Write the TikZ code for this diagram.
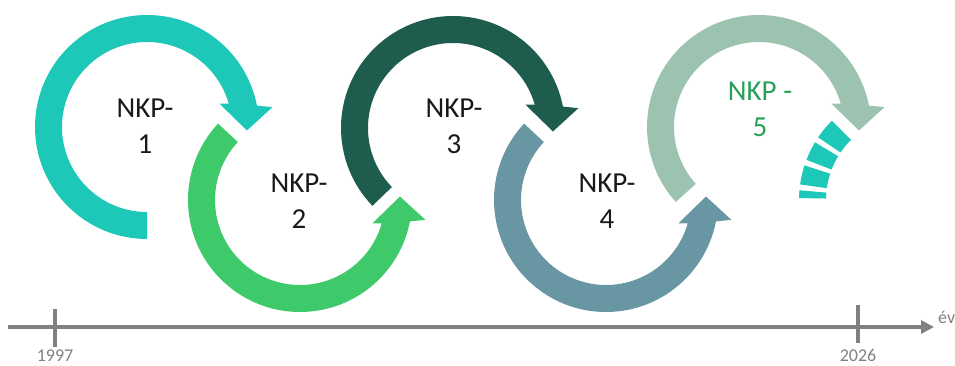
\documentclass[tikz,border=0pt]{standalone}
\usepackage{fontspec}
\setmainfont{Carlito}
\usetikzlibrary{arrows.meta, positioning}

\definecolor{nkpteal}{RGB}{30,200,185}
\definecolor{nkpgreen}{RGB}{62,201,106}
\definecolor{nkpdark}{RGB}{30,92,78}
\definecolor{nkpslate}{RGB}{104,150,162}
\definecolor{nkpsage}{RGB}{156,195,175}
\definecolor{nkptext}{RGB}{40,160,90}
\definecolor{axisgray}{RGB}{128,128,128}

\begin{document}
\begin{tikzpicture}[x=1pt, y=1pt]
\useasboundingbox (0,0) rectangle (955,365);

% ring centres
\coordinate (c1) at (147,238);
\coordinate (c2) at (300,165);
\coordinate (c3) at (453,237);
\coordinate (c4) at (606,165);
\coordinate (c5) at (759,238);
\coordinate (c6) at (911,165);

% circular arrows
\fill[nkpteal, shift={(c1)}] (270:112) arc[start angle=270, end angle=11, radius=112]
    -- (9:127) -- (-2:100) -- (18:76) -- (16:85)
    arc[start angle=16, end angle=270, radius=85] -- cycle;
\fill[nkpgreen, shift={(c2)}] (137:112) arc[start angle=137, end angle=349, radius=112]
    -- (351:127) -- (362:100) -- (342:76) -- (344:85)
    arc[start angle=344, end angle=137, radius=85] -- cycle;
\fill[nkpdark, shift={(c3)}] (224:112) arc[start angle=224, end angle=11, radius=112]
    -- (9:127) -- (-2:100) -- (18:76) -- (16:85)
    arc[start angle=16, end angle=224, radius=85] -- cycle;
\fill[nkpslate, shift={(c4)}] (137:112) arc[start angle=137, end angle=349, radius=112]
    -- (351:127) -- (362:100) -- (342:76) -- (344:85)
    arc[start angle=344, end angle=137, radius=85] -- cycle;
\fill[nkpsage, shift={(c5)}] (222:112) arc[start angle=222, end angle=11, radius=112]
    -- (9:127) -- (-2:100) -- (18:76) -- (16:85)
    arc[start angle=16, end angle=222, radius=85] -- cycle;

% the next one, only started
\begin{scope}[shift={(c6)}, nkpteal]
    \fill (135:112) arc[start angle=135, end angle=146, radius=112] -- (146:85)
        arc[start angle=146, end angle=135, radius=85] -- cycle;
    \fill (149:112) arc[start angle=149, end angle=159, radius=112] -- (159:85)
        arc[start angle=159, end angle=149, radius=85] -- cycle;
    \fill (162:112) arc[start angle=162, end angle=172, radius=112] -- (172:85)
        arc[start angle=172, end angle=162, radius=85] -- cycle;
    \fill (175:112) arc[start angle=175, end angle=179, radius=112] -- (179:85)
        arc[start angle=179, end angle=175, radius=85] -- cycle;
\end{scope}

\begin{scope}[every node/.style={align=center, text=black!90,
    font=\fontsize{29}{36}\selectfont}]
    \node (n1) at (145,239) {NKP-\\1};
    \node (n2) at (299,164) {NKP-\\2};
    \node (n3) at (454,239) {NKP-\\3};
    \node (n4) at (607,164) {NKP-\\4};
    \node[text=nkptext] (n5) at (760,256) {NKP -\\5};
\end{scope}

% time axis
\begin{scope}[axis/.style={draw=axisgray, line width=3.5pt},
    every node/.style={text=axisgray, inner sep=0pt,
    font=\fontsize{18}{20}\selectfont}]
    \coordinate (t0) at (8,38);
    \coordinate (t1) at (934,38);
    \coordinate (a1) at (55,56);
    \coordinate (a2) at (55,18);
    \coordinate (b1) at (858,60);
    \coordinate (b2) at (858,22);
    \draw[axis, -{Triangle[length=13pt, width=13pt]}] (t0) -- (t1);
    \draw[axis] (a1) -- (a2);
    \draw[axis] (b1) -- (b2);
    \node (y1) at (55,9) {1997};
    \node (y2) at (858,10) {2026};
    \node[anchor=base west] (ev) at (938,42) {év};
\end{scope}
\end{tikzpicture}
\end{document}
